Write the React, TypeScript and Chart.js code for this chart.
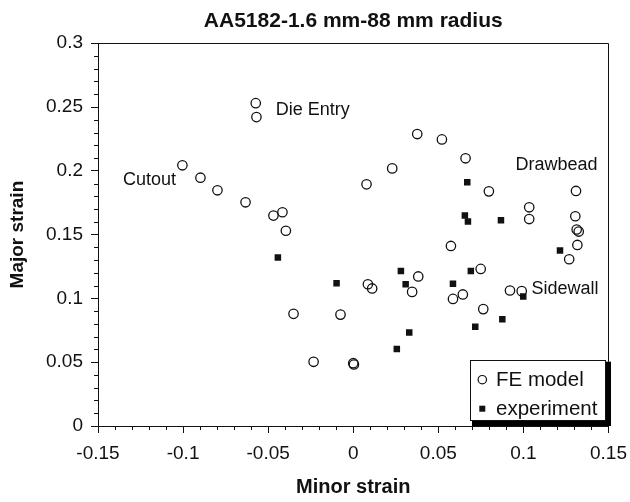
import React, { useEffect, useRef } from 'react';
import { Chart, registerables } from 'chart.js';

Chart.register(...registerables);

const FONT = "'Liberation Sans', Arial, Helvetica, sans-serif";
const INK = '#111111';

const chartTitle = 'AA5182-1.6 mm-88 mm radius';
const xTitle = 'Minor strain';
const yTitle = 'Major strain';
const seriesNames = ['FE model', 'experiment'];

const feMinor = [
  -0.0573, -0.0569, -0.1004, -0.0898, -0.0798, -0.0633, -0.0469, -0.0416, -0.0396,
  -0.0351, -0.0075, -0.0233, 0.0, 0.0004, 0.0086, 0.0111, 0.0078, 0.0229, 0.0376,
  0.0521, 0.066, 0.0797, 0.0382, 0.0346, 0.0574, 0.0749, 0.0586, 0.0644, 0.0764,
  0.0921, 0.099, 0.1034, 0.1034, 0.1309, 0.1305, 0.1313, 0.1325, 0.1317, 0.1269,
];
const feMajor = [
  0.253, 0.2421, 0.2043, 0.1946, 0.1847, 0.1753, 0.1649, 0.1675, 0.153,
  0.0879, 0.0873, 0.0503, 0.0492, 0.0482, 0.1111, 0.1078, 0.1894, 0.2019, 0.2288,
  0.2246, 0.2098, 0.1839, 0.1172, 0.1051, 0.1411, 0.1231, 0.0996, 0.1031, 0.0916,
  0.1062, 0.1057, 0.1714, 0.1622, 0.1842, 0.1644, 0.154, 0.1524, 0.1419, 0.1307,
];

const expMinor = [
  -0.0443, -0.0098, 0.067, 0.0656, 0.0674, 0.0868, 0.028, 0.0308, 0.0586, 0.0691,
  0.0329, 0.0256, 0.0717, 0.0876, 0.0999, 0.1215,
];
const expMajor = [
  0.132, 0.1119, 0.191, 0.1649, 0.1602, 0.1612, 0.1215, 0.1111, 0.1114, 0.1215,
  0.0733, 0.0603, 0.0777, 0.0837, 0.1015, 0.1375,
];

const xTickValues = [-0.15, -0.1, -0.05, 0, 0.05, 0.1, 0.15];
const yTickValues = [0, 0.05, 0.1, 0.15, 0.2, 0.25, 0.3];

const regionLabels = ['Cutout', 'Die Entry', 'Drawbead', 'Sidewall'];
const regionMinor = [-0.1353, -0.0455, 0.0954, 0.1048];
const regionMajor = [0.1925, 0.2473, 0.2048, 0.1072];

const fmt = (v: number) => String(Math.round(v * 100) / 100);

const decorPlugin = {
  id: 'decor',
  afterDraw(chart: any) {
    const { ctx, chartArea } = chart;
    const xs = chart.scales.x;
    const ys = chart.scales.y;
    const { left, right, top, bottom } = chartArea;
    ctx.save();
    ctx.strokeStyle = INK;
    ctx.lineWidth = 1;
    ctx.beginPath();
    const L = Math.round(left) + 0.5;
    const R = Math.round(right) - 0.5;
    const T = Math.round(top) + 0.5;
    const B = Math.round(bottom) - 0.5;
    ctx.moveTo(L, T);
    ctx.lineTo(R, T);
    ctx.lineTo(R, B);
    ctx.stroke();
    ctx.beginPath();
    for (let i = -15; i <= 15; i++) {
      if (i % 5 === 0) continue;
      const px = Math.round(xs.getPixelForValue(i / 100)) + 0.5;
      ctx.moveTo(px, bottom);
      ctx.lineTo(px, bottom + 4);
    }
    for (let i = 0; i <= 30; i++) {
      if (i % 5 === 0) continue;
      const py = Math.round(ys.getPixelForValue(i / 100)) + 0.5;
      ctx.moveTo(left - 4, py);
      ctx.lineTo(left, py);
    }
    ctx.stroke();
    ctx.fillStyle = INK;
    ctx.font = `18px ${FONT}`;
    ctx.textAlign = 'left';
    ctx.textBaseline = 'middle';
    regionLabels.forEach((t, i) => {
      ctx.fillText(t, xs.getPixelForValue(regionMinor[i]), ys.getPixelForValue(regionMajor[i]));
    });
    const bw = 136;
    const bh = 61;
    const bx = right - 2.5 - bw;
    const by = bottom - 5.3 - bh;
    ctx.fillStyle = '#000';
    ctx.fillRect(bx + 2, by + 2, bw + 3, bh + 3.3);
    ctx.fillStyle = '#fff';
    ctx.fillRect(bx, by, bw, bh);
    ctx.strokeStyle = INK;
    ctx.lineWidth = 1;
    ctx.strokeRect(Math.round(bx) + 0.5, Math.round(by) + 0.5, Math.round(bw) - 1, Math.round(bh) - 1);
    const mx = bx + 12.3;
    const ty1 = by + 20;
    const ty2 = by + 49;
    ctx.beginPath();
    ctx.arc(mx, ty1, 4.2, 0, Math.PI * 2);
    ctx.lineWidth = 1.2;
    ctx.stroke();
    ctx.fillStyle = INK;
    ctx.fillRect(mx - 3, ty2 - 3, 6, 6);
    ctx.font = `20.5px ${FONT}`;
    ctx.textBaseline = 'middle';
    ctx.fillText(seriesNames[0], bx + 26, ty1 + 1);
    ctx.fillText(seriesNames[1], bx + 26, ty2 + 1);
    ctx.restore();
  },
};

export default function App() {
  const ref = useRef<HTMLCanvasElement | null>(null);
  useEffect(() => {
    if (!ref.current) return;
    Chart.defaults.font.family = FONT;
    Chart.defaults.color = INK;
    const chart = new Chart(ref.current, {
      type: 'scatter',
      data: {
        datasets: [
          {
            label: seriesNames[0],
            data: feMinor.map((x, i) => ({ x, y: feMajor[i] })),
            pointStyle: 'circle',
            pointRadius: 4.7,
            pointBorderWidth: 1.3,
            borderColor: INK,
            backgroundColor: 'rgba(255,255,255,0)',
            showLine: false,
          },
          {
            label: seriesNames[1],
            data: expMinor.map((x, i) => ({ x, y: expMajor[i] })),
            pointStyle: 'rect',
            pointRadius: 4.6,
            pointBorderWidth: 0,
            borderColor: INK,
            backgroundColor: INK,
            showLine: false,
          },
        ],
      },
      options: {
        animation: false,
        responsive: false,
        devicePixelRatio: 1,
        layout: { padding: { left: 0, right: 21.5, top: 0, bottom: 0 } },
        plugins: {
          legend: { display: false },
          tooltip: { enabled: false },
          title: {
            display: true,
            text: chartTitle,
            fullSize: false,
            color: INK,
            font: { size: 21, weight: 'bold', family: FONT },
            padding: { top: 9, bottom: 9 },
          },
        },
        scales: {
          x: {
            type: 'linear',
            position: 'bottom',
            min: -0.15,
            max: 0.15,
            afterBuildTicks: (s: any) => {
              s.ticks = xTickValues.map((value) => ({ value }));
            },
            afterFit: (s: any) => {
              s.height = 76;
              s.paddingLeft = 0;
              s.paddingRight = 0;
            },
            ticks: {
              autoSkip: false,
              maxRotation: 0,
              padding: 9,
              color: INK,
              font: { size: 19, family: FONT },
              callback: (v: any) => fmt(Number(v)),
            },
            grid: { drawOnChartArea: false, drawTicks: true, tickLength: 7, color: INK },
            border: { display: true, color: INK, width: 1 },
            title: {
              display: true,
              text: xTitle,
              color: INK,
              font: { size: 20, weight: 'bold', family: FONT },
              padding: { top: 0, bottom: 3 },
            },
          },
          y: {
            type: 'linear',
            position: 'left',
            min: 0,
            max: 0.3,
            afterBuildTicks: (s: any) => {
              s.ticks = yTickValues.map((value) => ({ value }));
            },
            afterFit: (s: any) => {
              s.width = 98;
              s.paddingTop = 0;
              s.paddingBottom = 0;
            },
            ticks: {
              autoSkip: false,
              padding: 8,
              color: INK,
              font: { size: 19, family: FONT },
              callback: (v: any) => fmt(Number(v)),
            },
            grid: { drawOnChartArea: false, drawTicks: true, tickLength: 7, color: INK },
            border: { display: true, color: INK, width: 1 },
            title: {
              display: true,
              text: yTitle,
              color: INK,
              font: { size: 19, weight: 'bold', family: FONT },
              padding: { top: 6, bottom: 0 },
            },
          },
        },
      },
      plugins: [decorPlugin],
    } as any);
    return () => chart.destroy();
  }, []);
  return (
    <div style={{ position: 'absolute', left: 0, top: 0, width: 630, height: 502, background: '#fff' }}>
      <canvas ref={ref} width={630} height={502} style={{ display: 'block' }} />
    </div>
  );
}
